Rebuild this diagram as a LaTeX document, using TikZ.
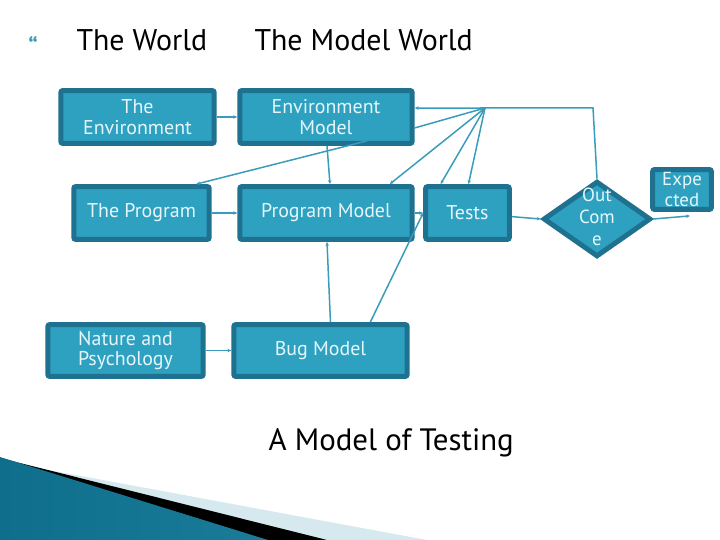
\documentclass[tikz,border=0pt]{standalone}
\usepackage{fontspec}
\setmainfont{PT Sans}
\usepackage{xcolor}
\usetikzlibrary{shapes.geometric,arrows.meta}
\definecolor{boxfill}{HTML}{2EA1C1}
\definecolor{boxline}{HTML}{1F7190}
\definecolor{wire}{HTML}{3A9CBA}
\definecolor{boxtext}{HTML}{E6F6FA}
\definecolor{paleband}{HTML}{D6E9EF}
\definecolor{wedgedark}{HTML}{0E6E8B}
\definecolor{wedgelight}{HTML}{4DB4D4}
\begin{document}
\begin{tikzpicture}[x=1bp, y=-1bp, every node/.style={font=\fontsize{20}{21}\selectfont},
  blk/.style={draw=boxline, fill=boxfill, line width=5bp, rounded corners=2bp, text=boxtext, align=center, inner sep=0pt},
  wirearr/.style={draw=wire, line width=1.5bp, -{Stealth[length=4bp,width=3.5bp]}},
  wireplain/.style={draw=wire, line width=1.5bp}]
\useasboundingbox (0,0) rectangle (720,540);
\fill[paleband] (0,461) -- (427,540) -- (0,540) -- cycle;
\fill[black] (0,458) -- (327,540) -- (0,540) -- cycle;
\shade[left color=wedgedark, middle color=wedgelight, right color=wedgedark!80!wedgelight] (0,457) -- (268,540) -- (0,540) -- cycle;
\node[text=wire, font=\bfseries\fontsize{24}{24}\selectfont] (bul) at (33,46) {\textquotedblleft};
\node[anchor=base west, font=\fontsize{30}{32}\selectfont] (hw) at (73,51) {The World};
\node[anchor=base west, font=\fontsize{30}{32}\selectfont] (hmw) at (251,51) {The Model World};
\node[blk, minimum width=154, minimum height=53] (env) at (137.5,117) {The\\Environment};
\node[blk, minimum width=173, minimum height=53] (envm) at (326,117) {Environment\\Model};
\node[blk, minimum width=136, minimum height=53] (prog) at (141.5,213) {The Program};
\node[blk, minimum width=173, minimum height=53] (progm) at (326,213) {Program Model};
\node[blk, minimum width=84, minimum height=53] (tests) at (467.5,213) {Tests};
\node[blk, minimum width=156, minimum height=52] (nat) at (125.5,350.5) {Nature and\\Psychology};
\node[blk, minimum width=174, minimum height=52] (bugm) at (320.5,350.5) {Bug Model};
\node[blk, shape=diamond, rounded corners=0pt, minimum width=108, minimum height=76] (outc) at (597,219) {};
\node[text=boxtext, align=center, font=\fontsize{19}{22}\selectfont] (outt) at (597,217) {Out\\Com\\e};
\node[blk, minimum width=59, minimum height=40, font=\fontsize{19}{21}\selectfont] (expd) at (682,189.5) {Expe\\cted};
\coordinate (hub) at (485,108);
\draw[wirearr] (env) -- (envm); \draw[wirearr] (prog) -- (progm); \draw[wirearr] (nat) -- (bugm);
\draw[wirearr] ([xshift=1]envm.south) -- ([xshift=4]progm.north);
\draw[wirearr] ([xshift=10]bugm.north) -- ([xshift=1]progm.south);
\draw[wirearr] ([xshift=41,yshift=5]envm.south) -- ([xshift=55]prog.north);
\draw[wirearr] (hub) -- ([yshift=9]envm.east); \draw[wireplain] (hub) -- ([yshift=-11]envm.east);
\draw[wirearr] (hub) -- ([xshift=64]progm.north);
\draw[wirearr] (hub) -- ([xshift=-27]tests.north); \draw[wirearr] (hub) -- ([xshift=1]tests.north);
\draw[wireplain] (hub) -- (593,108) -- (outc.north);
\draw[wirearr] ([xshift=50]bugm.north) -- (tests.west);
\draw[wirearr] (progm) -- (tests); \draw[wirearr] (tests) -- (outc.west);
\draw[wirearr] (outc.east) -- ([xshift=8,yshift=-4]expd.south);
\node[anchor=base west, font=\fontsize{31}{33}\selectfont] (cap) at (265,450) {A Model of Testing};
\end{tikzpicture}
\end{document}
